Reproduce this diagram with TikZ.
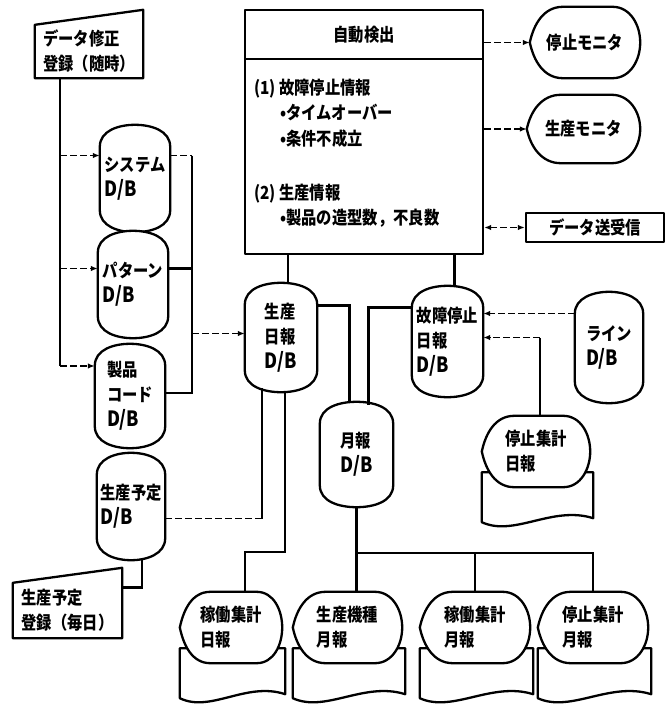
\documentclass[tikz,border=0pt]{standalone}
\usepackage{fontspec}
\setmainfont{Noto Sans CJK JP}[FakeStretch=0.85]
\usetikzlibrary{arrows.meta,calc}
\pgfdeclarelayer{bg}
\pgfsetlayers{bg,main}
\newcommand\fs{\fontsize{18}{25}\selectfont\bfseries}
\newcommand\db{{\fontsize{21}{25}\selectfont D/B}}
\tikzset{
  >={Latex[length=7pt,width=5.5pt]},
  outl/.style={line width=2.3pt, line join=round},
  conn/.style={line width=2.3pt},
  dconn/.style={line width=1.6pt, dash pattern=on 7pt off 3pt},
  arr/.style={dconn, ->},
  darr/.style={dconn, <->},
  shp/.style={inner sep=0pt, align=left, font=\fs},
  txt/.style={inner sep=0pt, font=\fs, anchor=base west},
}
\newcommand\dbshape[1]{%
  \begin{pgfonlayer}{bg}
  \draw[outl,fill=white] let \p1=(#1.north west),\p2=(#1.south east),\p3=(#1.center) in
    (\x1,\y1-22pt) to[out=90,in=180] (\x3,\y1) to[out=0,in=90] (\x2,\y1-22pt)
    -- (\x2,\y2+22pt) to[out=-90,in=0] (\x3,\y2) to[out=180,in=-90] (\x1,\y2+22pt) -- cycle;
  \end{pgfonlayer}}
\newcommand\bubble[1]{%
  \draw[outl,fill=white] (#1.west) to[out=78,in=180] ($(#1.north west)!0.3!(#1.north east)$)
    -- ($(#1.north west)!0.75!(#1.north east)$) to[out=0,in=90] (#1.east)
    to[out=-90,in=0] ($(#1.south west)!0.75!(#1.south east)$)
    -- ($(#1.south west)!0.3!(#1.south east)$) to[out=180,in=-78] (#1.west) -- cycle;}
\newcommand\monshape[1]{%
  \begin{pgfonlayer}{bg}\bubble{#1}\end{pgfonlayer}}
\newcommand\report[1]{%
  \begin{pgfonlayer}{bg}
  \draw[outl,fill=white] ($(#1.south west)+(0,-15)$) -- ($(#1.south east)+(3,-15)$)
    -- ($(#1.south east)+(3,31)$)
    .. controls ($(#1.south east)!0.35!(#1.south west)+(0,18)$) and ($(#1.south east)!0.7!(#1.south west)+(0,50)$)
    .. ($(#1.south west)+(0,35)$) -- cycle;
  \bubble{#1}
  \end{pgfonlayer}}
\newcommand\maninput[1]{%
  \draw[outl] (#1.south west) -- (#1.north west) -- ($(#1.north east)+(0,-15)$) -- (#1.south east) -- cycle;}

\begin{document}
\begin{tikzpicture}[x=1pt,y=-1pt]
\useasboundingbox (0,0) rectangle (667,706);

% manual inputs
\node[shp, minimum width=108pt, minimum height=53pt] (inp1) at (89,51.5) {データ修正\\登録（随時）};
\node[shp, minimum width=109pt, minimum height=55pt] (inp2) at (67.5,610.5) {生産予定\\登録（毎日）};
\maninput{inp1}
\maninput{inp2}

% data bases
\node[shp, minimum width=70pt, minimum height=107pt] (sys) at (135,178.5) {システム\\\db};
\node[shp, minimum width=70pt, minimum height=107pt] (pat) at (133,284.5) {パターン\\\db};
\node[shp, minimum width=70pt, minimum height=104pt] (prod) at (130,396) {製品\\コード\\\db};
\node[shp, minimum width=68pt, minimum height=107pt] (sched) at (131,506.5) {生産予定\\\db};
\node[shp, minimum width=72pt, minimum height=109pt] (gnp) at (281,337.5) {生産\\日報\\\db};
\node[shp, minimum width=71pt, minimum height=111pt] (fault) at (447.5,341.5) {故障停止\\日報\\\db};
\node[shp, minimum width=68pt, minimum height=111pt] (line) at (609,347.5) {ライン\\\db};
\node[shp, minimum width=73pt, minimum height=105pt] (getsu) at (356.5,454.5) {月報\\\db};
\foreach \nm in {sys,pat,prod,sched,gnp,fault,line,getsu} {\dbshape{\nm}}

% automatic detection box
\node[draw, outl, minimum width=238pt, minimum height=244pt, inner sep=0pt] (auto) at (364,132) {};
\node[shp] (autot) at (364,35) {自動検出};
\draw[outl] ($(auto.north west)+(0,50)$) -- ($(auto.north east)+(0,50)$);
\node[txt] (a1) at (254,95) {(1) 故障停止情報};
\node[txt] (a2) at (280,120) {•タイムオーバー};
\node[txt] (a3) at (280,145) {•条件不成立};
\node[txt] (a4) at (254,199) {(2) 生産情報};
\node[txt] (a5) at (280,224) {•製品の造型数，不良数};

% monitors and data transfer
\node[shp, minimum width=110pt, minimum height=71pt] (mon1) at (585,42.5) {停止モニタ};
\node[shp, minimum width=113pt, minimum height=68pt] (mon2) at (583.5,129) {生産モニタ};
\monshape{mon1}
\monshape{mon2}
\node[draw, outl, shp, minimum width=138pt, minimum height=29pt] (dsr) at (595,227.5) {データ送受信};

% reports
\node[shp, minimum width=108pt, minimum height=71pt] (stopday) at (536,451.5) {停止集計\\日報};
\node[shp, minimum width=102pt, minimum height=71pt] (kd) at (231,627.5) {稼働集計\\日報};
\node[shp, minimum width=109pt, minimum height=71pt] (gk) at (347.5,627.5) {生産機種\\月報};
\node[shp, minimum width=110pt, minimum height=71pt] (km) at (475,627.5) {稼働集計\\月報};
\node[shp, minimum width=110pt, minimum height=71pt] (ss) at (593,627.5) {停止集計\\月報};
\foreach \nm in {stopday,kd,gk,km,ss} {\report{\nm}}

% left bracket from data correction
\coordinate (lb) at ([xshift=-29pt]inp1.south);
\coordinate (sysin) at ([yshift=23pt]sys.west);
\coordinate (patin) at ([yshift=16pt]pat.west);
\coordinate (prodin) at ([yshift=30pt]prod.west);
\draw[conn] (lb) -- (lb |- prodin);
\draw[arr] (lb |- sysin) -- (sysin);
\draw[arr] (lb |- patin) -- (patin);
\draw[arr] (lb |- prodin) -- (prodin);

% right bus into production daily
\coordinate (sysout) at ([yshift=23pt]sys.east);
\coordinate (patout) at ([yshift=16pt]pat.east);
\coordinate (prodout) at ([yshift=3pt]prod.east);
\coordinate (rb) at ([xshift=22pt]sysout);
\coordinate (gnpin) at ([yshift=4pt]gnp.west);
\draw[dconn] (sysout) -- (rb);
\draw[conn] (rb) -- (rb |- prodout) -- (prodout);
\draw[conn] (patout) -- (rb |- patout);
\draw[arr] (rb |- gnpin) -- (gnpin);

% production schedule
\coordinate (schedout) at ([yshift=-12pt]sched.east);
\coordinate (gnpb1) at ([xshift=-19pt,yshift=4pt]gnp.south);
\draw[dconn] (schedout) -- (gnpb1 |- schedout);
\draw[conn] (gnpb1 |- schedout) -- (gnpb1);
\coordinate (schedb) at ([xshift=11pt]sched.south);
\coordinate (inp2in) at ([yshift=23pt]inp2.east);
\draw[conn] (schedb) |- (inp2in);

% auto detection links
\coordinate (gnpt) at ([xshift=7pt,yshift=-1pt]gnp.north);
\coordinate (faultt) at ([xshift=7pt,yshift=-1pt]fault.north);
\draw[conn] (gnpt |- auto.south) -- (gnpt);
\draw[conn] (faultt |- auto.south) -- (faultt);
\draw[arr] (auto.east |- mon1.west) -- (mon1.west);
\draw[arr] (auto.east |- mon2.west) -- (mon2.west);
\draw[darr] (auto.east |- dsr.west) -- (dsr.west);

% to monthly
\coordinate (gnpr) at ([yshift=32pt]gnp.east);
\coordinate (getsut1) at ([xshift=-7pt,yshift=-1pt]getsu.north);
\coordinate (faultl) at ([yshift=34pt]fault.west);
\coordinate (getsut2) at ([xshift=12pt,yshift=-3pt]getsu.north);
\draw[conn] (gnpr) -| (getsut1);
\draw[conn] (faultl) -| (getsut2);

% into fault daily
\coordinate (linel) at ([yshift=34pt]line.west);
\draw[arr] (linel) -- (fault.east |- linel);
\coordinate (sdt) at ([xshift=4pt]stopday.north);
\coordinate (faultr2) at ([yshift=4pt]fault.east);
\draw[conn] (sdt) -- (sdt |- faultr2);
\draw[arr] (sdt |- faultr2) -- (faultr2);

% reports at bottom
\coordinate (gnpb2) at ([xshift=4pt,yshift=1pt]gnp.south);
\coordinate (kdt) at ([xshift=14pt]kd.north);
\draw[conn] (gnpb2) -- ++(0,161) -| (kdt);
\draw[conn] (getsu.south) -- (getsu.south |- gk.north);
\coordinate (br) at ($(getsu.south)+(0,46)$);
\draw[conn] (br) -| (ss.north);
\draw[conn] (km.north |- br) -- (km.north);
\end{tikzpicture}
\end{document}
